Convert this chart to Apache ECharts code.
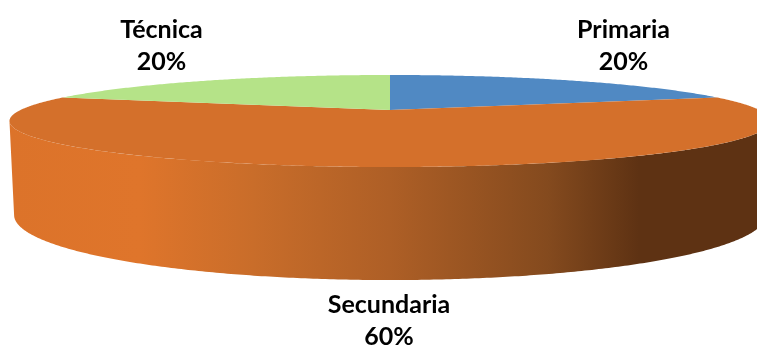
<!DOCTYPE html>
<html>
<head>
<meta charset="utf-8">
<style>html,body{margin:0;padding:0;background:#fff}#chart{width:757px;height:345px}</style>
<script src="https://cdn.jsdelivr.net/npm/echarts@6/dist/echarts.min.js"></script>
</head>
<body>
<div id="chart"></div>
<script>
// Shares of each education level, clockwise from twelve o'clock.
const categories = ['Primaria', 'Secundaria', 'Técnica'];
const shares = [20, 60, 20];

const topColors = ['#5089C3', '#D4702B', '#B5E388'];

// Perspective disc: the rim of a circle seen from above, nearer edge lower and larger.
const TILT = 0.239;
const CENTER_X = 390;
const topRim = { cy: 110, rx: 369.5, ry: 43.4 };
const baseRim = { cy: 199.5, rx: 365, ry: 61.3 };

// Label centre for each slice, with the spacing of its two text lines.
const labelCentres = {
  'Primaria': [623.5, 46],
  'Secundaria': [389, 321],
  'Técnica': [161.5, 46]
};
const LINE_GAP = 32;

const wallFill = {
  type: 'linear', x: 10, y: 0, x2: 768, y2: 0, global: true,
  colorStops: [
    { offset: 0, color: '#DC732A' },
    { offset: 0.17, color: '#DF752B' },
    { offset: 0.32, color: '#C96D2A' },
    { offset: 0.5, color: '#AE5F26' },
    { offset: 0.71, color: '#844A1E' },
    { offset: 0.83, color: '#5E3213' },
    { offset: 1, color: '#5E3213' }
  ]
};

const total = shares.reduce((a, b) => a + b, 0);

function project(rim, deg) {
  const t = deg * Math.PI / 180;
  const u = Math.sin(t), v = Math.cos(t);
  const w = 1 + TILT * v;
  return [CENTER_X + rim.rx * u / w, rim.cy - rim.ry * v / w];
}

function arc(rim, from, to) {
  const pts = [];
  const n = Math.max(2, Math.ceil(Math.abs(to - from) * 2));
  for (let i = 0; i <= n; i++) pts.push(project(rim, from + (to - from) * i / n));
  return pts;
}

// The side wall can only be seen between the two silhouette angles of the disc.
const wallStart = Math.acos(-TILT) * 180 / Math.PI;
const wallEnd = 360 - wallStart;

function renderSlice(params, api) {
  const i = params.dataIndex;
  const before = shares.slice(0, i).reduce((a, b) => a + b, 0);
  const from = before / total * 360;
  const to = (before + api.value(0)) / total * 360;
  const children = [];

  const a = Math.max(from, wallStart), b = Math.min(to, wallEnd);
  if (a < b) {
    children.push({
      type: 'polygon',
      shape: { points: arc(topRim, a, b).concat(arc(baseRim, b, a)) },
      style: { fill: wallFill }
    });
  }

  children.push({
    type: 'polygon',
    shape: { points: [[CENTER_X, topRim.cy]].concat(arc(topRim, from, to)) },
    style: { fill: topColors[i] }
  });

  const name = categories[i];
  const [lx, ly] = labelCentres[name];
  const lines = [name, Math.round(api.value(0) / total * 100) + '%'];
  lines.forEach((text, k) => {
    children.push({
      type: 'text',
      style: {
        text, x: lx, y: ly + (k - 0.5) * LINE_GAP,
        align: 'center', verticalAlign: 'middle',
        fill: '#000', font: 'bold 25px Lato'
      }
    });
  });

  return { type: 'group', children };
}

const chart = echarts.init(document.getElementById('chart'), null, { renderer: 'canvas' });
chart.setOption({
  animation: false,
  backgroundColor: '#fff',
  series: [{
    type: 'custom',
    coordinateSystem: 'none',
    silent: true,
    data: shares.map(v => [v]),
    renderItem: renderSlice
  }]
});
</script>
</body>
</html>
